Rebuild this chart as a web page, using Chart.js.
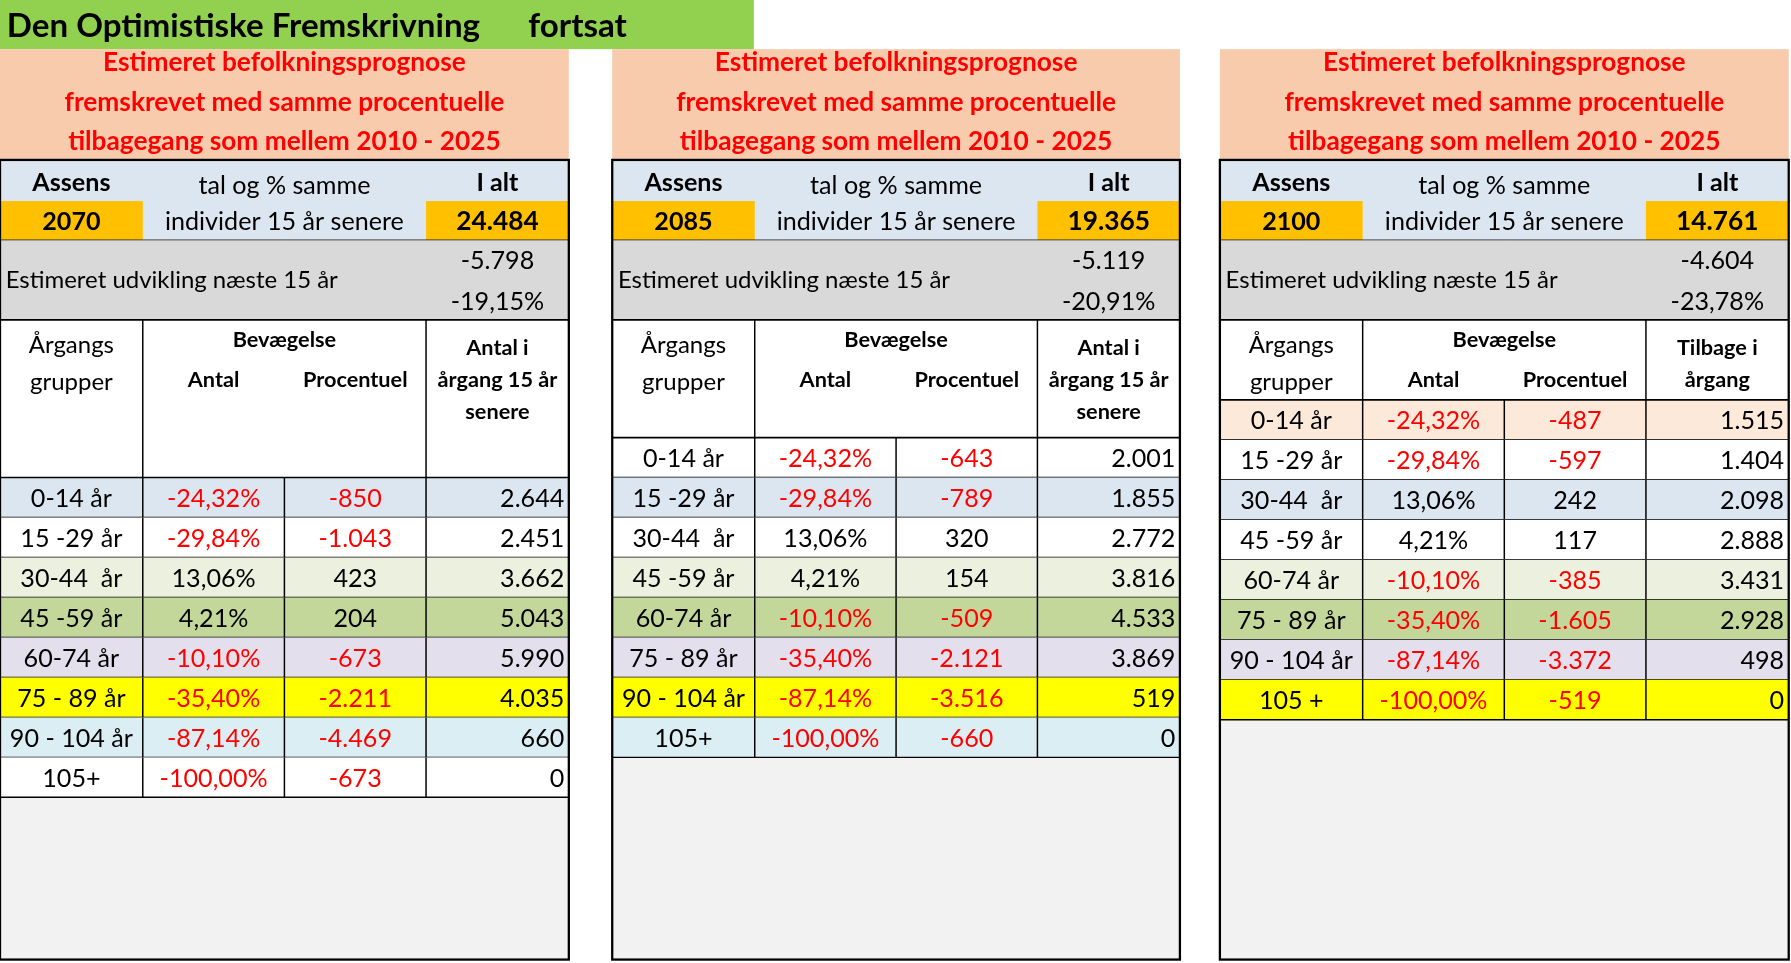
<!DOCTYPE html>
<html><head><meta charset="utf-8">
<script src="https://cdn.jsdelivr.net/npm/chart.js@4"></script>
<style>html,body{margin:0;padding:0;background:#fff}#wrap{width:1791px;height:963px}</style>
</head><body><div id="wrap"><canvas id="c"></canvas></div>
<script>
const title = "Den Optimistiske Fremskrivning      fortsat";
const headerLines = ["Estimeret befolkningsprognose","fremskrevet med samme procentuelle","tilbagegang som mellem 2010 - 2025"];
const years = ["2070","2085","2100"];
const totals = ["24.484","19.365","14.761"];
const changeAbs = ["-5.798","-5.119","-4.604"];
const changePct = ["-19,15%","-20,91%","-23,78%"];
const col4Head = [["Antal i","årgang 15 år","senere"],["Antal i","årgang 15 år","senere"],["Tilbage i","årgang"]];
const groups1 = ["0-14 år","15 -29 år","30-44  år","45 -59 år","60-74 år","75 - 89 år","90 - 104 år","105+"];
const groups2 = ["0-14 år","15 -29 år","30-44  år","45 -59 år","60-74 år","75 - 89 år","90 - 104 år","105+"];
const groups3 = ["0-14 år","15 -29 år","30-44  år","45 -59 år","60-74 år","75 - 89 år","90 - 104 år","105 +"];
const pct = ["-24,32%","-29,84%","13,06%","4,21%","-10,10%","-35,40%","-87,14%","-100,00%"];
const move1 = ["-850","-1.043","423","204","-673","-2.211","-4.469","-673"];
const move2 = ["-643","-789","320","154","-509","-2.121","-3.516","-660"];
const move3 = ["-487","-597","242","117","-385","-1.605","-3.372","-519"];
const left1 = ["2.644","2.451","3.662","5.043","5.990","4.035","660","0"];
const left2 = ["2.001","1.855","2.772","3.816","4.533","3.869","519","0"];
const left3 = ["1.515","1.404","2.098","2.888","3.431","2.928","498","0"];

const panels = [
  {x0:0,x1:498,rowTop:418,groups:groups1,move:move1,left:left1,
   bg:["#DCE6F1","#FFFFFF","#EBF1DE","#C4D79B","#E4DFEC","#FFFF00","#DAEEF3","#FFFFFF"]},
  {x0:536,x1:1033,rowTop:383,groups:groups2,move:move2,left:left2,
   bg:["#FFFFFF","#DCE6F1","#FFFFFF","#EBF1DE","#C4D79B","#E4DFEC","#FFFF00","#DAEEF3"]},
  {x0:1068,x1:1566,rowTop:350,groups:groups3,move:move3,left:left3,
   bg:["#FDE9D9","#FFFFFF","#DCE6F1","#FFFFFF","#EBF1DE","#C4D79B","#E4DFEC","#FFFF00"]}
];
const ROWH = 35;
const FONT = "Lato, 'Open Sans', sans-serif";

const tablePlugin = {
  id:'table',
  afterDraw(chart){
    const ctx = chart.ctx, xs = chart.scales.x, ys = chart.scales.y;
    const X = v=>xs.getPixelForValue(v), Y = v=>ys.getPixelForValue(v);
    const k = (X(1568)-X(0))/1568;
    const rect=(x0,y0,x1,y1,fill)=>{ctx.fillStyle=fill;ctx.fillRect(X(x0),Y(y0),X(x1)-X(x0),Y(y1)-Y(y0));};
    const line=(x0,y0,x1,y1,w)=>{ctx.strokeStyle="#000";ctx.lineWidth=w*k;ctx.beginPath();ctx.moveTo(X(x0),Y(y0));ctx.lineTo(X(x1),Y(y1));ctx.stroke();};
    const text=(s,x,y,size,color,align,bold)=>{ctx.font=(bold?"bold ":"")+(size*k)+"px "+FONT;ctx.fillStyle=color;ctx.textAlign=align||"center";ctx.textBaseline="middle";ctx.fillText(s,X(x),Y(y));};
    ctx.save();
    rect(0,0,660,43,"#92D050");
    text(title,6,23,29,"#000","left",true);
    panels.forEach((p,i)=>{
      const a=p.x0, w=p.x1-p.x0, c1=a+125*w/498, c2=a+249*w/498, c3=a+373*w/498, cm=(a+p.x1)/2;
      rect(a,43,p.x1,140,"#F8CBAD");
      headerLines.forEach((s,j)=>text(s,cm,55+j*34.5,23,"#FF0000","center",true));
      rect(a,140,p.x1,210,"#DCE6F1");
      rect(a,176,c1,210,"#FFC000"); rect(c3,176,p.x1,210,"#FFC000");
      text("Assens",(a+c1)/2,160,22,"#000","center",true);
      text(years[i],(a+c1)/2,194,22,"#000","center",true);
      text("tal og % samme",(c1+c3)/2,163,22,"#000","center");
      text("individer 15 år senere",(c1+c3)/2,194,22,"#000","center");
      text("I alt",(c3+p.x1)/2,160,22,"#000","center",true);
      text(totals[i],(c3+p.x1)/2,194,23,"#000","center",true);
      rect(a,210,p.x1,280,"#D9D9D9");
      text("Estimeret udvikling næste 15 år",a+5,245,21,"#000","left");
      text(changeAbs[i],(c3+p.x1)/2,228,22,"#000","center");
      text(changePct[i],(c3+p.x1)/2,264,22,"#000","center");
      rect(a,280,p.x1,p.rowTop,"#FFFFFF");
      text("Årgangs",(a+c1)/2,302,21,"#000","center");
      text("grupper",(a+c1)/2,335,21,"#000","center");
      text("Bevægelse",(c1+c3)/2,298,19,"#000","center",true);
      text("Antal",(c1+c2)/2,333,19,"#000","center",true);
      text("Procentuel",(c2+c3)/2,333,19,"#000","center",true);
      col4Head[i].forEach((s,j)=>text(s,(c3+p.x1)/2,305+j*28,19,"#000","center",true));
      const end = p.rowTop+ROWH*p.groups.length;
      rect(a,end,p.x1,840,"#F2F2F2");
      p.groups.forEach((g,r)=>{
        const y0=p.rowTop+r*ROWH, ym=y0+ROWH/2+1;
        rect(a,y0,p.x1,y0+ROWH,p.bg[r]);
        text(g,(a+c1)/2,ym,22,"#000","center");
        const neg=pct[r][0]==="-";
        text(pct[r],(c1+c2)/2,ym,22,neg?"#FF0000":"#000","center");
        text(p.move[r],(c2+c3)/2,ym,22,p.move[r][0]==="-"?"#FF0000":"#000","center");
        text(p.left[r],p.x1-4,ym,22,"#000","right");
        line(a,y0+ROWH,p.x1,y0+ROWH,1.3);
        [c1,c2,c3].forEach(cx=>line(cx,y0,cx,y0+ROWH,1.3));
      });
      line(a,140,p.x1,140,1.5); line(a,280,p.x1,280,1.5); line(a,p.rowTop,p.x1,p.rowTop,1.5);
      line(a,210,p.x1,210,0.6);
      [c1,c3].forEach(cx=>line(cx,280,cx,p.rowTop,1.3));
      ctx.strokeStyle="#000";ctx.lineWidth=2*k;
      ctx.strokeRect(X(a),Y(140),X(p.x1)-X(a),Y(840)-Y(140));
    });
    ctx.restore();
  }
};

new Chart(document.getElementById('c'),{
  type:'scatter',
  data:{datasets:[{data:[],pointRadius:0}]},
  options:{responsive:true,maintainAspectRatio:false,animation:false,
    layout:{padding:0},
    plugins:{legend:{display:false},tooltip:{enabled:false}},
    scales:{
      x:{type:'linear',min:0,max:1568,display:false},
      y:{type:'linear',min:0,max:843,reverse:true,display:false}
    }},
  plugins:[tablePlugin]
});
</script></body></html>
